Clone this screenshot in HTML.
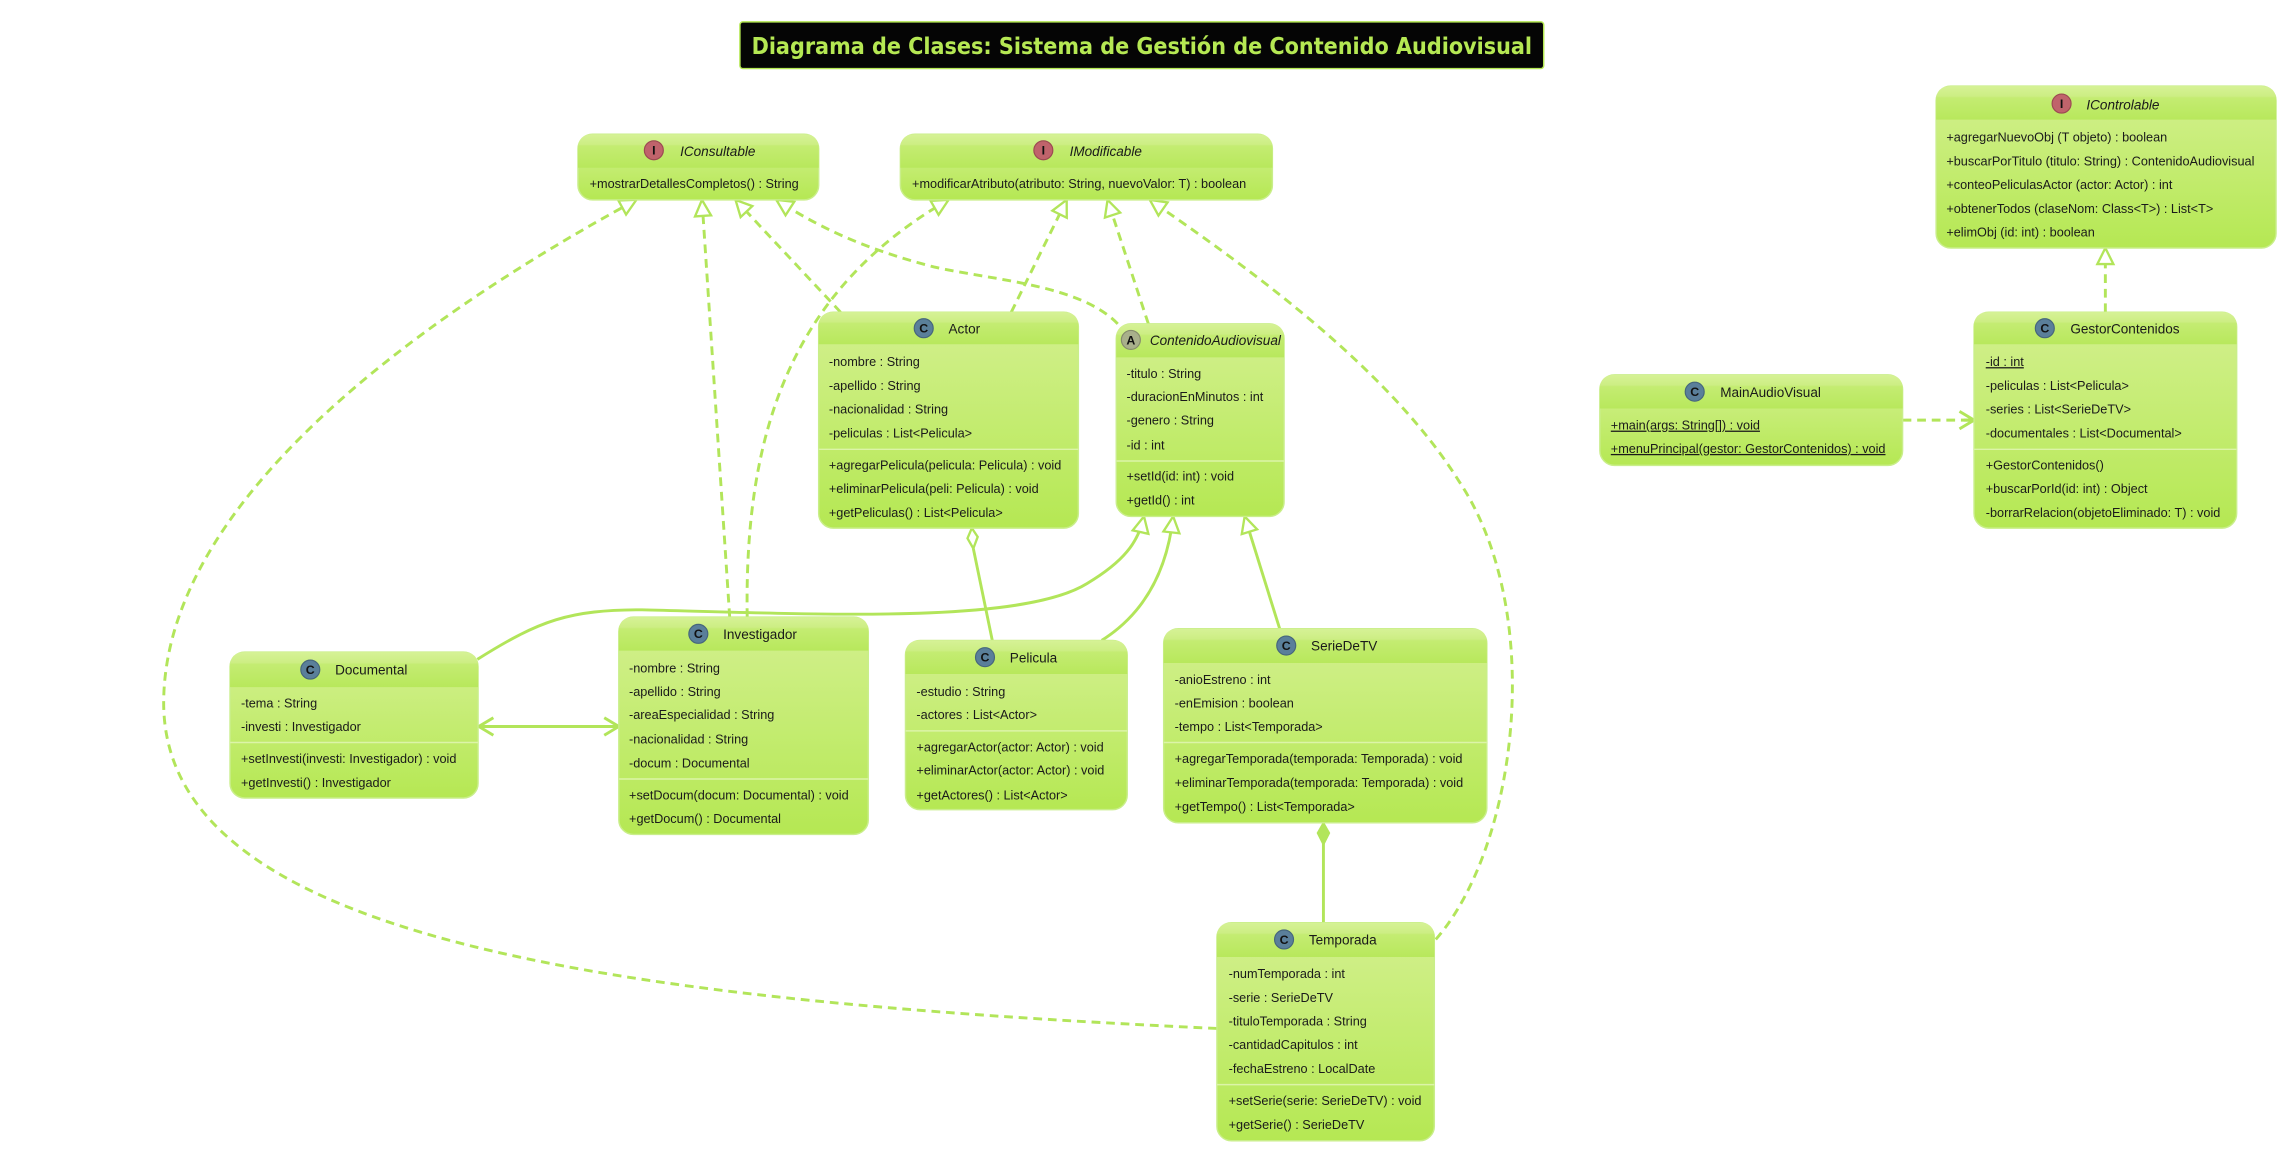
<!DOCTYPE html>
<html><head><meta charset="utf-8"><style>
html,body{margin:0;padding:0;background:#fff;}
svg{display:block;}
text{font-family:"Liberation Sans","DejaVu Sans",sans-serif;font-size:8.7px;fill:#1a1a1a;}
.t{font-size:9.3px;}
.i{font-style:italic;}
.ic{font-size:8.5px;font-weight:bold;fill:#111;text-anchor:middle;}
.box{fill:url(#gb);stroke:#c9ee8a;stroke-width:1;}
.hd{fill:url(#gh);}
.dv{stroke:#dcf4a8;stroke-width:1;}
.ln{fill:none;stroke:#b2e55a;stroke-width:2;}
.ds{stroke-dasharray:6,4;}
</style></head><body>
<svg width="2288" height="1151" viewBox="0 0 1568 789" xmlns="http://www.w3.org/2000/svg">
<defs>
<linearGradient id="gb" x1="0" y1="0" x2="0" y2="1"><stop offset="0" stop-color="#d3f08f"/><stop offset="1" stop-color="#b5e853"/></linearGradient>
<linearGradient id="gh" x1="0" y1="0" x2="0" y2="1"><stop offset="0" stop-color="#d6f296"/><stop offset="0.3" stop-color="#cdee84"/><stop offset="0.35" stop-color="#c4ec72"/><stop offset="1" stop-color="#b8e85c"/></linearGradient>
<marker id="tri" viewBox="-13 -7 14 14" refX="0" refY="0" markerWidth="14" markerHeight="14" markerUnits="userSpaceOnUse" orient="auto"><path d="M0,0 L-11,-5.5 L-11,5.5 Z" fill="#fff" stroke="#b2e55a" stroke-width="1.6"/></marker>
<marker id="opn" viewBox="-13 -7 14 14" refX="0" refY="0" markerWidth="14" markerHeight="14" markerUnits="userSpaceOnUse" orient="auto"><path d="M-10,-6 L0,0 L-10,6 M0,0 L-7,0" fill="none" stroke="#b2e55a" stroke-width="2"/></marker>
<marker id="opns" viewBox="-1 -7 14 14" refX="0" refY="0" markerWidth="14" markerHeight="14" markerUnits="userSpaceOnUse" orient="auto"><path d="M10,-6 L0,0 L10,6" fill="none" stroke="#b2e55a" stroke-width="2"/></marker>
</defs>

<!-- Title -->
<rect x="507" y="15" width="551" height="32" rx="2" fill="#050505" stroke="#b5e853" stroke-width="1"/>
<text x="782.5" y="37" text-anchor="middle" style="font-family:'DejaVu Sans','Liberation Sans',sans-serif;font-size:16px;font-weight:bold;fill:#b5e853" textLength="535" lengthAdjust="spacingAndGlyphs">Diagrama de Clases: Sistema de Gestión de Contenido Audiovisual</text>

<!-- Connectors -->
<path class="ln ds" d="M834,705 C 400,685 110,640 112,480 C 114,330 320,200 436,137" marker-end="url(#tri)"/>
<path class="ln ds" d="M500,423 L481,137" marker-end="url(#tri)"/>
<path class="ln ds" d="M512,423 C 510,300 540,200 650,137" marker-end="url(#tri)"/>
<path class="ln ds" d="M576,214 L504,137" marker-end="url(#tri)"/>
<path class="ln ds" d="M766,222 C 740,195 680,192 640,183 C 590,170 560,155 532,137" marker-end="url(#tri)"/>
<path class="ln ds" d="M693,214 L731,137" marker-end="url(#tri)"/>
<path class="ln ds" d="M787,222 L759,137" marker-end="url(#tri)"/>
<path class="ln ds" d="M984,644 C 1040,580 1060,420 1000,330 C 950,250 850,180 788,137" marker-end="url(#tri)"/>
<path class="ln ds" d="M1443,214 L1443,170" marker-end="url(#tri)"/>
<path class="ln ds" d="M1304,288 L1353,288" marker-end="url(#opn)"/>
<path class="ln" d="M327,452 C 370,425 390,418 440,418 C 560,421 700,428 745,400 C 770,385 780,372 784,354" marker-end="url(#tri)"/>
<path class="ln" d="M755,439 C 785,420 800,390 804,354" marker-end="url(#tri)"/>
<path class="ln" d="M877,431 L853,354" marker-end="url(#tri)"/>
<path class="ln" d="M667,376 L680,439"/>
<path d="M666,362 L670,368 L667,376 L663,369 Z" fill="#fff" stroke="#b2e55a" stroke-width="1.6"/>
<path class="ln" d="M907,578 L907,632"/>
<path d="M907,564 L911,571 L907,579 L903,571 Z" fill="#b2e55a" stroke="#b2e55a" stroke-width="1.2"/>
<path class="ln" d="M328,498 L424,498" marker-start="url(#opns)" marker-end="url(#opn)"/>

<!-- IConsultable -->
<rect class="box" x="396" y="92" width="165" height="45" rx="10"/>
<path class="hd" d="M406,92 H551 Q561,92 561,102 V115 H396 V102 Q396,92 406,92 Z"/>
<circle cx="448" cy="103" r="6.5" fill="#c0636b" stroke="#9c4a52" stroke-width="0.8"/><text class="ic" x="448" y="106">I</text>
<text class="t i" x="466" y="107">IConsultable</text>
<text x="404" y="129">+mostrarDetallesCompletos() : String</text>

<!-- IModificable -->
<rect class="box" x="617" y="92" width="255" height="45" rx="10"/>
<path class="hd" d="M627,92 H862 Q872,92 872,102 V115 H617 V102 Q617,92 627,92 Z"/>
<circle cx="715" cy="103" r="6.5" fill="#c0636b" stroke="#9c4a52" stroke-width="0.8"/><text class="ic" x="715" y="106">I</text>
<text class="t i" x="733" y="107">IModificable</text>
<text x="625" y="129">+modificarAtributo(atributo: String, nuevoValor: T) : boolean</text>

<!-- IControlable -->
<rect class="box" x="1327" y="59" width="233" height="111" rx="10"/>
<path class="hd" d="M1337,59 H1550 Q1560,59 1560,69 V82 H1327 V69 Q1327,59 1337,59 Z"/>
<circle cx="1413" cy="71" r="6.5" fill="#c0636b" stroke="#9c4a52" stroke-width="0.8"/><text class="ic" x="1413" y="74">I</text>
<text class="t i" x="1430" y="75">IControlable</text>
<text x="1334" y="97">+agregarNuevoObj (T objeto) : boolean</text>
<text x="1334" y="113.5">+buscarPorTitulo (titulo: String) : ContenidoAudiovisual</text>
<text x="1334" y="129.5">+conteoPeliculasActor (actor: Actor) : int</text>
<text x="1334" y="146">+obtenerTodos (claseNom: Class&lt;T&gt;) : List&lt;T&gt;</text>
<text x="1334" y="162">+elimObj (id: int) : boolean</text>

<!-- Actor -->
<rect class="box" x="561" y="214" width="178" height="148" rx="10"/>
<path class="hd" d="M571,214 H729 Q739,214 739,224 V236 H561 V224 Q561,214 571,214 Z"/>
<circle cx="633" cy="225" r="6.5" fill="#5a7f9a" stroke="#46667c" stroke-width="0.8"/><text class="ic" x="633" y="228">C</text>
<text class="t" x="650" y="228.5">Actor</text>
<text x="568" y="251">-nombre : String</text>
<text x="568" y="267.5">-apellido : String</text>
<text x="568" y="283.5">-nacionalidad : String</text>
<text x="568" y="300">-peliculas : List&lt;Pelicula&gt;</text>
<line class="dv" x1="561" y1="308" x2="739" y2="308"/>
<text x="568" y="322">+agregarPelicula(pelicula: Pelicula) : void</text>
<text x="568" y="338">+eliminarPelicula(peli: Pelicula) : void</text>
<text x="568" y="354.5">+getPeliculas() : List&lt;Pelicula&gt;</text>

<!-- ContenidoAudiovisual -->
<rect class="box" x="765" y="222" width="115" height="132" rx="10"/>
<path class="hd" d="M775,222 H870 Q880,222 880,232 V245 H765 V232 Q765,222 775,222 Z"/>
<circle cx="775" cy="233" r="6.5" fill="#a9b08b" stroke="#868c6c" stroke-width="0.8"/><text class="ic" x="775" y="236">A</text>
<text class="t i" x="788" y="236.5">ContenidoAudiovisual</text>
<text x="772" y="259">-titulo : String</text>
<text x="772" y="275">-duracionEnMinutos : int</text>
<text x="772" y="291">-genero : String</text>
<text x="772" y="308">-id : int</text>
<line class="dv" x1="765" y1="316" x2="880" y2="316"/>
<text x="772" y="329.5">+setId(id: int) : void</text>
<text x="772" y="346">+getId() : int</text>

<!-- GestorContenidos -->
<rect class="box" x="1353" y="214" width="180" height="148" rx="10"/>
<path class="hd" d="M1363,214 H1523 Q1533,214 1533,224 V236 H1353 V224 Q1353,214 1363,214 Z"/>
<circle cx="1401.5" cy="225" r="6.5" fill="#5a7f9a" stroke="#46667c" stroke-width="0.8"/><text class="ic" x="1401.5" y="228">C</text>
<text class="t" x="1419" y="228.5">GestorContenidos</text>
<text x="1361" y="251" text-decoration="underline">-id : int</text>
<text x="1361" y="267.5">-peliculas : List&lt;Pelicula&gt;</text>
<text x="1361" y="283.5">-series : List&lt;SerieDeTV&gt;</text>
<text x="1361" y="300">-documentales : List&lt;Documental&gt;</text>
<line class="dv" x1="1353" y1="308" x2="1533" y2="308"/>
<text x="1361" y="322">+GestorContenidos()</text>
<text x="1361" y="338">+buscarPorId(id: int) : Object</text>
<text x="1361" y="354.5">-borrarRelacion(objetoEliminado: T) : void</text>

<!-- MainAudioVisual -->
<rect class="box" x="1096.5" y="257" width="207.5" height="62" rx="10"/>
<path class="hd" d="M1106.5,257 H1294 Q1304,257 1304,267 V280 H1096.5 V267 Q1096.5,257 1106.5,257 Z"/>
<circle cx="1161.5" cy="268.5" r="6.5" fill="#5a7f9a" stroke="#46667c" stroke-width="0.8"/><text class="ic" x="1161.5" y="271.5">C</text>
<text class="t" x="1179" y="272">MainAudioVisual</text>
<text x="1104" y="294.5" text-decoration="underline">+main(args: String[]) : void</text>
<text x="1104" y="310.5" text-decoration="underline">+menuPrincipal(gestor: GestorContenidos) : void</text>

<!-- Documental -->
<rect class="box" x="157.5" y="447" width="170" height="100" rx="10"/>
<path class="hd" d="M167.5,447 H317.5 Q327.5,447 327.5,457 V471 H157.5 V457 Q157.5,447 167.5,447 Z"/>
<circle cx="212.5" cy="459" r="6.5" fill="#5a7f9a" stroke="#46667c" stroke-width="0.8"/><text class="ic" x="212.5" y="462">C</text>
<text class="t" x="229.5" y="462.5">Documental</text>
<text x="165" y="485">-tema : String</text>
<text x="165" y="501">-investi : Investigador</text>
<line class="dv" x1="157.5" y1="509" x2="327.5" y2="509"/>
<text x="165" y="523">+setInvesti(investi: Investigador) : void</text>
<text x="165" y="539.5">+getInvesti() : Investigador</text>

<!-- Investigador -->
<rect class="box" x="424" y="423" width="171" height="149" rx="10"/>
<path class="hd" d="M434,423 H585 Q595,423 595,433 V446 H424 V433 Q424,423 434,423 Z"/>
<circle cx="478.5" cy="434.5" r="6.5" fill="#5a7f9a" stroke="#46667c" stroke-width="0.8"/><text class="ic" x="478.5" y="437.5">C</text>
<text class="t" x="495.5" y="438">Investigador</text>
<text x="431" y="461">-nombre : String</text>
<text x="431" y="477">-apellido : String</text>
<text x="431" y="493">-areaEspecialidad : String</text>
<text x="431" y="509.5">-nacionalidad : String</text>
<text x="431" y="526">-docum : Documental</text>
<line class="dv" x1="424" y1="534" x2="595" y2="534"/>
<text x="431" y="548">+setDocum(docum: Documental) : void</text>
<text x="431" y="564">+getDocum() : Documental</text>

<!-- Pelicula -->
<rect class="box" x="620.5" y="439" width="152" height="116" rx="10"/>
<path class="hd" d="M630.5,439 H762.5 Q772.5,439 772.5,449 V462 H620.5 V449 Q620.5,439 630.5,439 Z"/>
<circle cx="675" cy="450.5" r="6.5" fill="#5a7f9a" stroke="#46667c" stroke-width="0.8"/><text class="ic" x="675" y="453.5">C</text>
<text class="t" x="692" y="454">Pelicula</text>
<text x="628" y="477">-estudio : String</text>
<text x="628" y="493">-actores : List&lt;Actor&gt;</text>
<line class="dv" x1="620.5" y1="501" x2="772.5" y2="501"/>
<text x="628" y="515">+agregarActor(actor: Actor) : void</text>
<text x="628" y="531">+eliminarActor(actor: Actor) : void</text>
<text x="628" y="548">+getActores() : List&lt;Actor&gt;</text>

<!-- SerieDeTV -->
<rect class="box" x="797.5" y="431" width="221.5" height="133" rx="10"/>
<path class="hd" d="M807.5,431 H1009 Q1019,431 1019,441 V454.5 H797.5 V441 Q797.5,431 807.5,431 Z"/>
<circle cx="881.5" cy="442.5" r="6.5" fill="#5a7f9a" stroke="#46667c" stroke-width="0.8"/><text class="ic" x="881.5" y="445.5">C</text>
<text class="t" x="898.5" y="446">SerieDeTV</text>
<text x="805" y="469">-anioEstreno : int</text>
<text x="805" y="485">-enEmision : boolean</text>
<text x="805" y="501">-tempo : List&lt;Temporada&gt;</text>
<line class="dv" x1="797.5" y1="509" x2="1019" y2="509"/>
<text x="805" y="523">+agregarTemporada(temporada: Temporada) : void</text>
<text x="805" y="539.5">+eliminarTemporada(temporada: Temporada) : void</text>
<text x="805" y="556">+getTempo() : List&lt;Temporada&gt;</text>

<!-- Temporada -->
<rect class="box" x="834" y="632.5" width="149" height="149.5" rx="10"/>
<path class="hd" d="M844,632.5 H973 Q983,632.5 983,642.5 V656 H834 V642.5 Q834,632.5 844,632.5 Z"/>
<circle cx="880" cy="644" r="6.5" fill="#5a7f9a" stroke="#46667c" stroke-width="0.8"/><text class="ic" x="880" y="647">C</text>
<text class="t" x="897" y="647.5">Temporada</text>
<text x="842" y="670.5">-numTemporada : int</text>
<text x="842" y="687">-serie : SerieDeTV</text>
<text x="842" y="703">-tituloTemporada : String</text>
<text x="842" y="719">-cantidadCapitulos : int</text>
<text x="842" y="735.5">-fechaEstreno : LocalDate</text>
<line class="dv" x1="834" y1="743.5" x2="983" y2="743.5"/>
<text x="842" y="757.5">+setSerie(serie: SerieDeTV) : void</text>
<text x="842" y="774">+getSerie() : SerieDeTV</text>
</svg>
</body></html>
